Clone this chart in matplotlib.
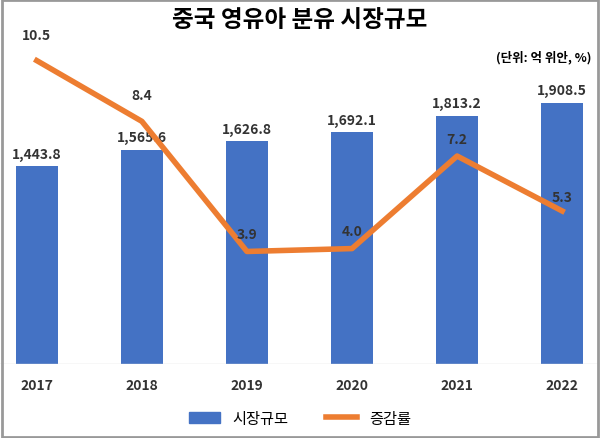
import matplotlib.pyplot as plt
from matplotlib.lines import Line2D
from matplotlib.patches import Patch, Rectangle

plt.rcParams['font.family'] = ['Noto Sans CJK JP', 'Noto Sans CJK KR', 'DejaVu Sans']

years = ['2017', '2018', '2019', '2020', '2021', '2022']
market = [1443.8, 1565.6, 1626.8, 1692.1, 1813.2, 1908.5]
growth = [10.5, 8.4, 3.9, 4.0, 7.2, 5.3]

fig = plt.figure(figsize=(6, 4.39), dpi=100)
ax = fig.add_axes([0.0, 0.168, 1.0, 0.718])
x = range(len(years))
ax.bar(x, market, width=0.4, color='#4472C4', zorder=2)
ax.set_xlim(-0.35, 5.36)
ax.set_ylim(0, 2300)
ax.axhline(0, color='#d9d9d9', lw=1)
for i, v in enumerate(market):
    ax.text(i, v + 40, f'{v:,.1f}', ha='center', va='bottom', fontsize=10,
            fontweight='bold', color='#333333')
ax.set_xticks(list(x))
ax.set_xticklabels(years, fontsize=10, fontweight='bold', color='#333333')
ax.tick_params(length=0, pad=10)
ax.set_yticks([])
for s in ax.spines.values():
    s.set_visible(False)

ax2 = ax.twinx()
ax2.plot(x, growth, color='#ED7D31', lw=4, zorder=3)
ax2.set_ylim(0, 10.9)
ax2.set_yticks([])
for s in ax2.spines.values():
    s.set_visible(False)
offs = [0.9, 0.9, 0.6, 0.6, 0.6, 0.5]
for i, v in enumerate(growth):
    ax2.text(i, v + offs[i], f'{v:.1f}', ha='center', va='center',
             fontsize=10, fontweight='bold', color='#333333', zorder=4)

fig.text(0.5, 0.955, '중국 영유아 분유 시장규모', ha='center', va='center',
         fontsize=17, fontweight='bold')
fig.text(0.985, 0.868, '(단위: 억 위안, %)', ha='right', va='center', fontsize=9,
         fontweight='bold')
handles = [Patch(color='#4472C4'), Line2D([], [], color='#ED7D31', lw=4)]
fig.legend(handles, ['시장규모', '증감률'], loc='center', bbox_to_anchor=(0.5, 0.045),
           ncol=2, frameon=False, fontsize=11, handlelength=2, columnspacing=2.5)
fig.patches.append(Rectangle((0.003, 0.003), 0.994, 0.994, transform=fig.transFigure,
                             fill=False, edgecolor='#999999', lw=2))
fig.savefig('out.png')
